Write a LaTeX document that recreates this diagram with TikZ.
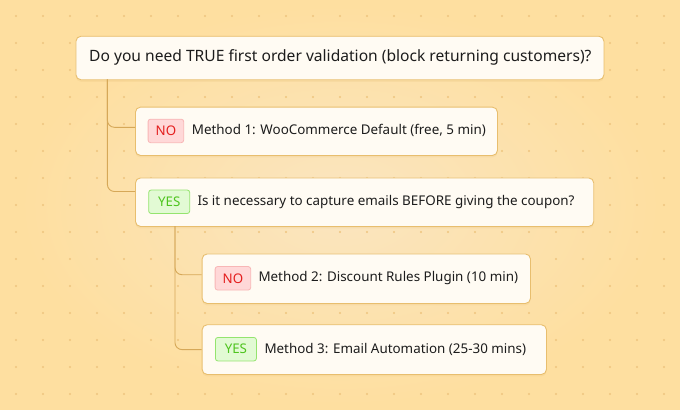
\documentclass[tikz,border=0pt]{standalone}
\usepackage{fontspec}
\setmainfont{Noto Sans}
\usetikzlibrary{shadows}
\definecolor{bg}{RGB}{254,223,160}
\definecolor{glow}{RGB}{250,229,192}
\definecolor{dotc}{RGB}{238,196,126}
\definecolor{boxborder}{RGB}{232,190,110}
\definecolor{boxfill}{RGB}{255,251,243}
\definecolor{conn}{RGB}{214,168,88}
\definecolor{txt}{RGB}{28,28,28}
\definecolor{nofill}{RGB}{255,216,216}
\definecolor{nodraw}{RGB}{248,182,182}
\definecolor{notext}{RGB}{228,30,30}
\definecolor{yesfill}{RGB}{226,250,212}
\definecolor{yesdraw}{RGB}{148,228,110}
\definecolor{yestext}{RGB}{78,196,30}
\tikzset{
  box/.style={draw=boxborder, fill=boxfill, rounded corners=5pt, line width=0.9pt,
    anchor=north west, inner sep=0pt,
    drop shadow={shadow xshift=0pt, shadow yshift=-2pt, opacity=0.12, fill=conn}},
  badge/.style={anchor=west, rounded corners=2.5pt, line width=0.8pt, inner xsep=0pt,
    inner ysep=0pt, minimum height=23.5pt, font=\fontsize{13.3}{15}\selectfont},
  nobadge/.style={badge, draw=nodraw, fill=nofill, text=notext, minimum width=35.6pt},
  yesbadge/.style={badge, draw=yesdraw, fill=yesfill, text=yestext, minimum width=41pt},
  label/.style={anchor=west, inner sep=0pt, text=txt, font=\fontsize{13.4}{16}\selectfont},
  head/.style={anchor=west, inner sep=0pt, text=txt, font=\fontsize{15.6}{18}\selectfont},
  link/.style={draw=conn, line width=0.9pt, rounded corners=7pt}
}
\begin{document}
\begin{tikzpicture}[x=1pt,y=-1pt]
\useasboundingbox (0,0) rectangle (680,410);
\fill[bg] (0,0) rectangle (680,410);
\shade[inner color=glow, outer color=bg] (340,205) ellipse (320 and 200);
\foreach \i in {0,...,24}{\foreach \j in {0,...,14}{\fill[dotc] (16+27*\i,16+27*\j) circle (1.1);}}

% boxes
\node[box, minimum width=528pt, minimum height=43.5pt] (b1) at (75.5,35.8) {};
\node[box, minimum width=362pt, minimum height=48.3pt] (b2) at (135,106.7) {};
\node[box, minimum width=458.3pt, minimum height=48.5pt] (b3) at (135,177.5) {};
\node[box, minimum width=328.3pt, minimum height=49.5pt] (b4) at (201.7,253.5) {};
\node[box, minimum width=344.3pt, minimum height=49.7pt] (b5) at (201.7,324.3) {};

% texts
\node[head] (t1) at (89,57.5) {Do you need TRUE first order validation (block returning customers)?};
\node[nobadge] (g2) at (147.7,130.9) {NO};
\node[label] (t2) at (191.7,130.9) {Method 1: WooCommerce Default (free, 5 min)};
\node[yesbadge] (g3) at (148.3,201.75) {YES};
\node[label] (t3) at (197.3,201.75) {Is it necessary to capture emails BEFORE giving the coupon?};
\node[nobadge] (g4) at (214.7,278.3) {NO};
\node[label] (t4) at (258.3,278.3) {Method 2: Discount Rules Plugin (10 min)};
\node[yesbadge] (g5) at (215,349.2) {YES};
\node[label] (t5) at (264.3,349.2) {Method 3: Email Automation (25-30 mins)};

% connectors
\coordinate (j1) at (107.4,79.3);
\coordinate (j2) at (175,226);
\draw[link] (j1) |- ([yshift=4pt]b2.west);
\draw[link] (j1) |- ([yshift=10.7pt]b3.west);
\draw[link] (j2) |- ([yshift=4pt]b4.west);
\draw[link] (j2) |- (b5.west);
\end{tikzpicture}
\end{document}
